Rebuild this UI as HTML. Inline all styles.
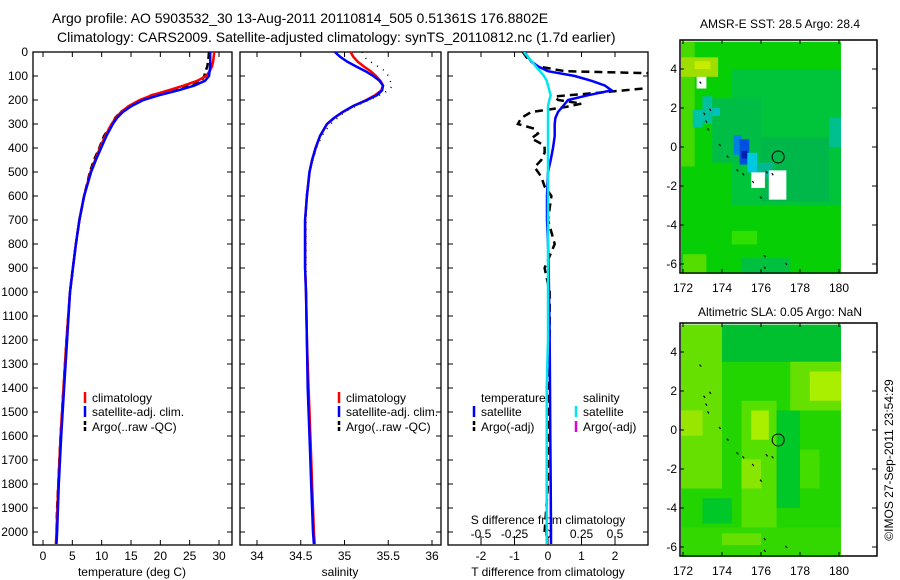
<!DOCTYPE html>
<html><head><meta charset="utf-8"><style>
html,body{margin:0;padding:0;background:#fff;}
svg{display:block;font-family:"Liberation Sans",sans-serif;}
text{fill:#000;}
</style></head><body>
<svg id="c" width="900" height="580" viewBox="0 0 900 580">
<text x="52" y="23" font-size="14">Argo profile: AO 5903532_30 13-Aug-2011 20110814_505 0.51361S 176.8802E</text>
<text x="57" y="42" font-size="14">Climatology: CARS2009. Satellite-adjusted climatology: synTS_20110812.nc (1.7d earlier)</text>
<text x="780" y="28" font-size="12" text-anchor="middle">AMSR-E SST: 28.5 Argo: 28.4</text>
<text x="780" y="316" font-size="12" text-anchor="middle">Altimetric SLA: 0.05 Argo: NaN</text>
<text transform="translate(893,460) rotate(-90)" font-size="12" text-anchor="middle">©IMOS 27-Sep-2011 23:54:29</text>
<text x="327" y="517" font-size="12">US ARGO PROJECT</text>
<text x="327" y="531" font-size="12" textLength="111" lengthAdjust="spacingAndGlyphs">PI: DEAN ROEMMICH</text>
</svg>
<script>
const depths=[0,20,40,60,80,100,120,140,160,180,200,225,250,275,300,350,400,450,500,600,700,800,900,1000,1200,1400,1600,1800,2000,2050];
const climT=[29.2,29.1,29.0,28.8,28.4,27.8,26.3,24.0,21.3,18.6,16.5,14.6,13.3,12.4,11.7,10.6,9.7,8.9,8.1,7.0,6.2,5.6,5.1,4.6,4.0,3.5,3.0,2.6,2.3,2.2];
const satT=[28.5,28.5,28.5,28.5,28.4,28.3,27.6,25.8,23.0,19.8,17.1,15.1,13.6,12.6,11.9,10.8,9.9,9.0,8.2,7.0,6.2,5.6,5.1,4.6,4.1,3.6,3.1,2.7,2.4,2.3];
const argoDepths=[0,30,60,80,100,120,140,160,180,200,225,250,275,300,350,400,450,500,600,700,800,900,1000,1200,1400,1600,1800,1900,2000];
const argoT=[28.3,28.2,28.0,27.7,27.5,27.0,25.5,22.0,18.5,16.8,15.0,13.2,12.3,11.8,10.4,9.6,8.7,8.0,7.0,6.2,5.6,5.1,4.6,4.0,3.5,3.0,2.6,2.4,2.3];
const climS=[35.07,35.10,35.15,35.22,35.30,35.36,35.41,35.44,35.42,35.35,35.25,35.10,34.98,34.88,34.80,34.72,34.67,34.63,34.60,34.57,34.55,34.55,34.55,34.56,34.57,34.59,34.61,34.63,34.65,34.66];
const satS=[34.89,34.95,35.03,35.13,35.24,35.33,35.40,35.44,35.43,35.37,35.26,35.10,34.98,34.88,34.80,34.72,34.67,34.63,34.60,34.57,34.55,34.55,34.55,34.56,34.57,34.58,34.60,34.62,34.64,34.65];
const argoS=[35.20,35.25,35.38,35.47,35.50,35.52,35.55,35.50,35.40,35.28,35.13,35.00,34.92,34.84,34.74,34.68,34.64,34.60,34.57,34.56,34.56,34.56,34.56,34.57,34.59,34.61,34.63,34.64,34.65];
const diffDepths=[0,20,40,60,80,100,120,140,160,180,200,225,250,275,300,350,400,450,500,600,700,800,900,1000,1200,1400,1600,1800,2000,2050];
const satTdiff=[-0.7,-0.6,-0.5,-0.3,0.0,0.8,1.3,1.7,1.9,1.2,0.6,0.45,0.3,0.22,0.2,0.2,0.15,0.08,0.0,-0.03,-0.03,0.0,0.02,0.03,0.05,0.06,0.07,0.08,0.09,0.09];
const satSdiff=[-0.18,-0.15,-0.12,-0.09,-0.06,-0.03,-0.01,0.0,0.01,0.02,0.01,0.0,0.0,0.0,0.0,0.0,0.0,0.0,0.0,0.0,0.0,0.0,0.0,0.0,0.0,-0.01,-0.01,-0.01,-0.01,-0.01];
const argoDiffDepths=[0,30,60,80,90,110,130,150,170,185,200,215,230,250,275,300,320,340,360,390,420,450,480,520,560,600,700,800,900,1000,1200,1500,1800,2000];
const argoTdiff=[-0.75,-0.6,-0.3,0.5,3.5,3.5,3.5,3.0,1.5,0.2,0.3,1.0,0.5,-0.5,-0.8,-0.9,-0.4,-0.3,-0.5,-0.1,-0.1,-0.2,-0.4,-0.2,-0.1,0.1,0.0,0.2,-0.1,0.05,0.05,0.0,0.0,-0.1];
const depthTicks=[0,100,200,300,400,500,600,700,800,900,1000,1100,1200,1300,1400,1500,1600,1700,1800,1900,2000];
const tempTicks=[0,5,10,15,20,25,30];
const salTicks=[34,34.5,35,35.5,36];
const tdiffTicks=[-2,-1,0,1,2];
const sdiffTicks=[-0.5,-0.25,0,0.25,0.5];
const latTicks=[4,2,0,-2,-4,-6];
const lonTicks=[172,174,176,178,180];
// map patches: lon0, latTop, lon1, latBottom, colour
const sstPatches=[[171.9,5.4,180.1,-6.5,'#06cf06'],[174.5,4.0,180.1,-3.0,'#00c43a'],[173.5,2.5,176.0,-0.8,'#00be45'],[176.0,0.5,179.5,-2.8,'#00b84a'],[171.9,5.4,172.6,-1.0,'#44da00'],[171.9,4.6,173.8,3.6,'#a0de00'],[172.6,4.4,173.4,4.0,'#c8ec00'],[173.0,2.6,173.5,1.2,'#00c0a0'],[172.5,1.9,173.0,1.0,'#00c4a8'],[173.5,2.0,173.9,1.6,'#00c0c0'],[174.6,0.6,175.0,-0.4,'#0080e0'],[174.9,0.4,175.4,-0.9,'#0050e0'],[175.0,-0.2,175.3,-0.6,'#0020b0'],[175.3,-0.3,175.8,-1.3,'#00c8e0'],[175.8,-0.8,176.6,-1.6,'#00b890'],[175.5,-1.3,176.2,-2.1,'#ffffff'],[176.4,-1.2,177.3,-2.7,'#ffffff'],[172.7,3.6,173.2,3.0,'#ffffff'],[179.5,1.5,180.1,0.0,'#00c090'],[174.5,-4.3,175.8,-5.0,'#30e000'],[172.0,-5.5,173.2,-6.5,'#55dd00'],[175.0,-5.7,177.5,-6.5,'#00c040']];
const slaPatches=[[171.9,5.4,180.1,-6.5,'#22d400'],[174,5.4,180.1,3.5,'#00c030'],[171.9,5.4,174.0,-3.0,'#66e000'],[171.9,1.0,173.0,-0.3,'#99e600'],[175.0,1.5,176.8,-5.0,'#55e000'],[175.5,1.0,176.4,-0.5,'#aaee00'],[175.0,-1.5,176.0,-3.0,'#88e600'],[177.5,3.5,180.1,1.0,'#66e000'],[178.5,3.0,180.1,1.5,'#aaee00'],[176.8,1.0,178.0,-4.0,'#00c828'],[178.0,-1.0,179.0,-3.0,'#44dd00'],[171.9,-5.0,180.1,-6.5,'#33d800'],[174.0,-5.3,176.0,-5.9,'#66e000'],[173.0,-3.5,174.5,-4.8,'#00c828']];
const islandLon=[172.9,173.1,173.4,173.2,173.3,173.9,174.3,174.8,175.1,175.6,176.0,176.3,176.2,176.6,176.2,177.3];
const islandLat=[3.3,1.7,1.9,1.3,0.9,0.1,-0.5,-1.2,-1.4,-1.8,-2.6,-1.3,-5.6,-1.4,-6.2,-6.0];
const argoLon=[176.88], argoLat=[-0.51];

const svg=document.getElementById('c');
const NS='http://www.w3.org/2000/svg';
function mk(tag,attrs,parent){const e=document.createElementNS(NS,tag);for(const k in attrs)e.setAttribute(k,attrs[k]);(parent||svg).appendChild(e);return e;}
const Y0=52,YS=0.24;
function yD(d){return Y0+d*YS;}
const PT=545;
function linScale(v0,p0,v1,p1){return v=>p0+(v-v0)*(p1-p0)/(v1-v0);}
const panels=[{x0:33,x1:232,name:'temperature'},{x0:240,x1:441,name:'salinity'},{x0:448,x1:648,name:'difference'}];
const xT=linScale(0,43,30,219);
const xS=linScale(34,257,36,432);
const xTd=linScale(0,548,1,581.5);
const xSd=linScale(0,548,0.25,581.5);

function frame(p){
  const g=mk('g',{},svg);
  
  
  const r=mk('rect',{x:p.x0,y:Y0,width:p.x1-p.x0,height:PT-Y0,fill:'#fff',stroke:'#000','stroke-width':1.3},g);
  
  
  depthTicks.forEach(d=>{
    const y=yD(d);
    mk('line',{x1:p.x0,x2:p.x0+5,y1:y,y2:y,stroke:'#000'},g);
    mk('line',{x1:p.x1,x2:p.x1-5,y1:y,y2:y,stroke:'#000'},g);
  });
  return g;
}
function poly(g,xs,ds,fx,col,w,dash,name){
  const pts=xs.map((v,i)=>fx(v).toFixed(1)+','+yD(ds[i]).toFixed(1)).join(' ');
  const pl=mk('polyline',{points:pts,fill:'none',stroke:col,'stroke-width':w},g);
  if(dash)pl.setAttribute('stroke-dasharray',dash);
  
  
  return pl;
}
function xTicks(g,p,ticks,fx,y,labelFmt,axisName){
  ticks.forEach(t=>{
    const x=fx(t);
    mk('line',{x1:x,x2:x,y1:PT,y2:PT-5,stroke:'#000'},g);
    mk('line',{x1:x,x2:x,y1:Y0,y2:Y0+5,stroke:'#000'},g);
    const tx=mk('text',{x:x,y:y,'font-size':12,'text-anchor':'middle'},g);
    tx.textContent=labelFmt(t);
    
    
  });
}
depthTicks.forEach(d=>{
  const t=mk('text',{x:28,y:yD(d)+4,'font-size':12,'text-anchor':'end'});
  t.textContent=String(d);
  
  
});
function label(g,x,y,s,name,anchor){const t=mk('text',{x:x,y:y,'font-size':12,'text-anchor':anchor||'start'},g);t.textContent=s;return t;}
function legendItem(g,x,y,col,dash,s,name){
  const l=mk('line',{x1:x,x2:x,y1:y-10,y2:y+1,stroke:col,'stroke-width':2.5},g);
  if(dash)l.setAttribute('stroke-dasharray',dash);
  
  
  label(g,x+7,y,s,name);
}
let g=frame(panels[0]);
xTicks(g,panels[0],tempTicks,xT,560,t=>String(t),'temperature');
label(g,132,576,'temperature (deg C)','temperature-axis-title','middle');
poly(g,argoT,argoDepths,xT,'#000',2.5,'7 4','argo-temperature-line');
poly(g,climT,depths,xT,'#f00',2.5,null,'climatology-temperature-line');
poly(g,satT,depths,xT,'#00f',2.5,null,'satellite-temperature-line');
legendItem(g,85,402,'#f00',null,'climatology','legend-climatology');
legendItem(g,85,416,'#00f',null,'satellite-adj. clim.','legend-satellite');
legendItem(g,85,431,'#000','4 2','Argo(..raw -QC)','legend-argo');
g=frame(panels[1]);
xTicks(g,panels[1],salTicks,xS,560,t=>String(t),'salinity');
label(g,340,576,'salinity','salinity-axis-title','middle');
poly(g,argoS,argoDepths,xS,'#000',1.5,'1 6','argo-salinity-line');
poly(g,climS,depths,xS,'#f00',2.5,null,'climatology-salinity-line');
poly(g,satS,depths,xS,'#00f',2.5,null,'satellite-salinity-line');
legendItem(g,339,402,'#f00',null,'climatology','legend-climatology');
legendItem(g,339,416,'#00f',null,'satellite-adj. clim.','legend-satellite');
legendItem(g,339,431,'#000','4 2','Argo(..raw -QC)','legend-argo');
g=frame(panels[2]);
xTicks(g,panels[2],tdiffTicks,xTd,560,t=>String(t),'t-difference');
label(g,548,576,'T difference from climatology','t-difference-axis-title','middle');
sdiffTicks.forEach(t=>{const x=xSd(t);mk('line',{x1:x,x2:x,y1:536,y2:540,stroke:'#000'},g);label(g,x,538,String(t),'s-difference-tick-label','middle');});
label(g,548,524,'S difference from climatology','s-difference-axis-title','middle');
const cp=mk('clipPath',{id:'cp3'},svg);mk('rect',{x:448,y:52,width:200,height:493},cp);
const g3=mk('g',{'clip-path':'url(#cp3)'},g);
poly(g3,argoTdiff,argoDiffDepths,xTd,'#000',2.5,'8 5','argo-t-difference-line');
poly(g3,satTdiff,diffDepths,xTd,'#00f',2.5,null,'satellite-t-difference-line');
poly(g3,satSdiff,diffDepths,xSd,'#00e5ee',2.5,null,'satellite-s-difference-line');
label(g,481,402,'temperature','legend-temperature-heading');
label(g,583,402,'salinity','legend-salinity-heading');
legendItem(g,474,416,'#00f',null,'satellite','legend-t-satellite');
legendItem(g,474,431,'#000','4 2','Argo(-adj)','legend-t-argo');
legendItem(g,576,416,'#00e5ee',null,'satellite','legend-s-satellite');
legendItem(g,576,431,'#e000e0',null,'Argo(-adj)','legend-s-argo');
function map(top,patches,name){
  const mg=mk('g',{},svg);
  
  
  const lx=v=>683+(v-172)*19.5, ly=v=>top+107+-v*19.5;
  mk('rect',{x:680,y:top,width:197,height:233,fill:'#fff',stroke:'#000','stroke-width':1.3},mg);
  patches.forEach(p=>{
    const r=mk('rect',{x:lx(p[0]),y:ly(p[1]),width:lx(p[2])-lx(p[0]),height:ly(p[3])-ly(p[1]),fill:p[4]},mg);
    
    
  });
  mk('rect',{x:841,y:top+1,width:35,height:231,fill:'#fff'},mg);
  islandLon.forEach((lo,i)=>{
    const x=lx(lo),y=ly(islandLat[i]);
    const p=mk('path',{d:`M${x-1},${y-1}l1,1l0.5,1`,stroke:'#000','stroke-width':1.2,fill:'none'},mg);
    
    
  });
  const c=mk('circle',{cx:lx(argoLon[0]),cy:ly(argoLat[0]),r:6,fill:'none',stroke:'#000','stroke-width':1},mg);
  
  
  mk('rect',{x:680,y:top,width:197,height:233,fill:'none',stroke:'#000','stroke-width':1.3},mg);
  latTicks.forEach(t=>{const y=ly(t);mk('line',{x1:680,x2:684,y1:y,y2:y,stroke:'#000'},mg);mk('line',{x1:877,x2:872,y1:y,y2:y,stroke:'#000'},mg);label(mg,677,y+4,String(t),'lat-tick-label','end');});
  lonTicks.forEach(t=>{const x=lx(t);mk('line',{x1:x,x2:x,y1:top,y2:top+4,stroke:'#000'},mg);mk('line',{x1:x,x2:x,y1:top+233,y2:top+229,stroke:'#000'},mg);label(mg,x,top+252,String(t),'lon-tick-label','middle');});
}
map(40,sstPatches,'sst-map');
map(323,slaPatches,'sla-map');
</script>
</body></html>
